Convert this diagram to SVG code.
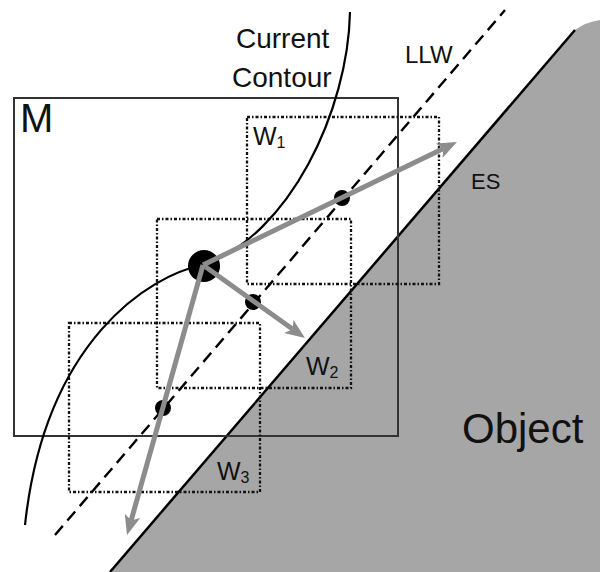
<svg xmlns="http://www.w3.org/2000/svg" width="600" height="572" viewBox="0 0 600 572">
<style>
.txt{font-family:"Liberation Sans",Arial,sans-serif;fill:#111}
.win{fill:none;stroke:#111;stroke-width:2.3;stroke-dasharray:3 2 1.5 2}
.arr{stroke:#8c8c8c;stroke-width:5;fill:none;marker-end:url(#ah)}
.dot{fill:#000}
</style>
<defs>
<marker id="ah" markerUnits="userSpaceOnUse" markerWidth="20" markerHeight="16" viewBox="0 0 20 16" refX="5" refY="8" orient="auto">
<path d="M0,0 L20,8 L0,16 L5,8 Z" fill="#8c8c8c"/>
</marker>
</defs>
<rect width="600" height="572" fill="#fff"/>
<g id="object">
<path d="M110,572 L575,30 Q586,22 600,20 L600,572 Z" fill="#a6a6a6"/>
<line x1="110" y1="572" x2="575" y2="30" stroke="#000" stroke-width="2.5"/>
<text class="txt" x="462" y="443" font-size="42">Object</text>
</g>
<g id="M">
<rect x="14" y="98" width="384" height="338" fill="none" stroke="#333" stroke-width="2"/>
<text class="txt" x="20" y="132" font-size="40">M</text>
</g>
<g id="W1">
<rect class="win" x="247" y="117" width="192" height="167"/>
<text class="txt" x="253" y="145" font-size="25">W<tspan font-size="16" dy="3">1</tspan></text>
</g>
<g id="W2">
<rect class="win" x="157" y="219" width="194" height="169"/>
<text class="txt" x="306" y="375" font-size="25">W<tspan font-size="16" dy="3">2</tspan></text>
</g>
<g id="W3">
<rect class="win" x="69" y="323" width="191" height="169"/>
<text class="txt" x="217" y="480" font-size="25">W<tspan font-size="16" dy="3">3</tspan></text>
</g>
<g id="LLW">
<line x1="55" y1="535" x2="505" y2="10" stroke="#000" stroke-width="2.4" stroke-dasharray="12 7"/>
<text class="txt" x="405" y="63" font-size="24">LLW</text>
</g>
<g id="ES">
<text class="txt" x="471" y="189" font-size="22">ES</text>
</g>
<g id="contour">
<path d="M350,12 C348,110 290,235 203,265 C150,275 45,340 25,525" fill="none" stroke="#000" stroke-width="2.2"/>
<text class="txt" x="236" y="48" font-size="28">Current</text>
<text class="txt" x="232" y="87" font-size="28">Contour</text>
</g>
<g id="points">
<circle class="dot" cx="204" cy="266" r="16"/>
<circle class="dot" cx="342" cy="198" r="8"/>
<circle class="dot" cx="253" cy="302" r="8"/>
<circle class="dot" cx="163" cy="408" r="8"/>
</g>
<g id="connectors">
<line class="arr" x1="203" y1="265" x2="443.5" y2="148.5"/>
<line class="arr" x1="203" y1="265" x2="292.8" y2="329.3"/>
<line class="arr" x1="203" y1="265" x2="131.1" y2="520.6"/>
</g>
</svg>
